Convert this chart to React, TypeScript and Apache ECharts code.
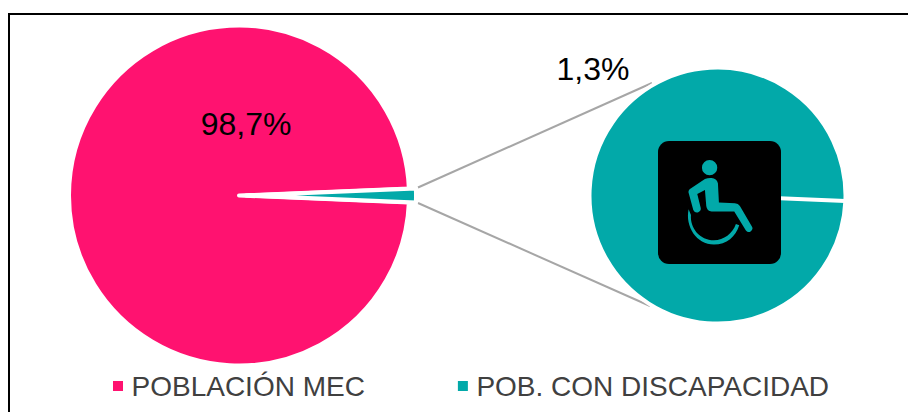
import React, { useEffect, useRef } from "react";
import * as echarts from "echarts";

const categories = ["POBLACIÓN MEC", "POB. CON DISCAPACIDAD"];
const shares = [98.7, 1.3];
const detailShares = [1.3, 0];
const colors = ["#FF1270", "#02A9A9"];
const FONT = "'Liberation Sans', Arial, sans-serif";

const ICON =
  "M186 113 A23 23 0 1 0 232 113 A23 23 0 1 0 186 113 Z " +
  "M195 147 L150 177 Q143 183 147 192 L160 240 Q165 250 175 247 Q185 243 182 233 L172 192 L195 180 L199 228 Q201 243 215 245 L283 245 L318 302 Q325 310 333 304 Q341 297 336 290 L300 228 Q295 220 285 220 L237 218 L234 160 Q230 145 215 144 Q205 143 195 147 Z " +
  "M146 238 C135 290 170 344 222 344 C260 344 288 320 298 286 L288 282 C278 310 252 331 222 331 C180 331 150 295 153 255 Z";

const pct = (v: number) => String(v).replace(".", ",") + "%";

export default function App() {
  const ref = useRef<HTMLDivElement>(null);
  useEffect(() => {
    echarts.graphic.registerShape("wheelchair", echarts.graphic.extendPath(ICON, {}));
    const chart = echarts.init(ref.current!, null, { renderer: "svg" });
    chart.setOption({
      animation: false,
      backgroundColor: "#ffffff",
      legend: {
        left: 113,
        top: 372,
        padding: 0,
        icon: "rect",
        itemWidth: 10,
        itemHeight: 10,
        itemGap: 93,
        selectedMode: false,
        data: categories,
        itemStyle: { borderWidth: 0 },
        textStyle: { fontFamily: FONT, fontSize: 28, color: "#404040", padding: [0, 0, 0, 3.5] },
      },
      series: [
        {
          type: "pie",
          center: [239, 195.5],
          radius: [0, 170],
          startAngle: 357.66,
          selectedMode: "single",
          selectedOffset: 7,
          silent: true,
          itemStyle: { borderColor: "#ffffff", borderWidth: 4 },
          label: { show: false },
          labelLine: { show: false },
          data: categories.map((name, i) => ({
            name,
            value: shares[i],
            selected: i === 1,
            itemStyle: { color: colors[i] },
          })),
        },
        {
          type: "pie",
          center: [717.5, 195.5],
          radius: [0, 128],
          startAngle: 357.5,
          silent: true,
          label: { show: false },
          labelLine: { show: false },
          itemStyle: { borderColor: "#ffffff", borderWidth: 4, color: colors[1] },
          data: detailShares.map((value) => ({ name: categories[1], value })),
        },
      ],
      graphic: [
        {
          type: "polyline",
          z: 1,
          shape: { points: [[9, 412], [9, 14], [908, 14]] },
          style: { stroke: "#000000", lineWidth: 2, fill: "none" },
        },
        {
          type: "line",
          z: 1,
          shape: { x1: 418, y1: 187.5, x2: 652, y2: 83 },
          style: { stroke: "#A6A6A6", lineWidth: 2 },
        },
        {
          type: "line",
          z: 1,
          shape: { x1: 418, y1: 203, x2: 650, y2: 306 },
          style: { stroke: "#A6A6A6", lineWidth: 2 },
        },
        {
          type: "rect",
          z: 10,
          shape: { x: 658, y: 141, width: 123, height: 123, r: 11 },
          style: { fill: "#000000" },
        },
        {
          type: "wheelchair",
          z: 11,
          x: 640,
          y: 130,
          scaleX: 1 / 3,
          scaleY: 1 / 3,
          style: { fill: colors[1] },
        },
        {
          type: "text",
          z: 12,
          x: 246,
          y: 124,
          style: {
            text: pct(shares[0]),
            fill: "#000000",
            font: `32px ${FONT}`,
            align: "center",
            verticalAlign: "middle",
          },
        },
        {
          type: "text",
          z: 12,
          x: 593,
          y: 69,
          style: {
            text: pct(shares[1]),
            fill: "#000000",
            font: `32px ${FONT}`,
            align: "center",
            verticalAlign: "middle",
          },
        },
      ],
    });
    return () => chart.dispose();
  }, []);
  return <div ref={ref} style={{ position: "fixed", left: 0, top: 0, width: 908, height: 412 }} />;
}
